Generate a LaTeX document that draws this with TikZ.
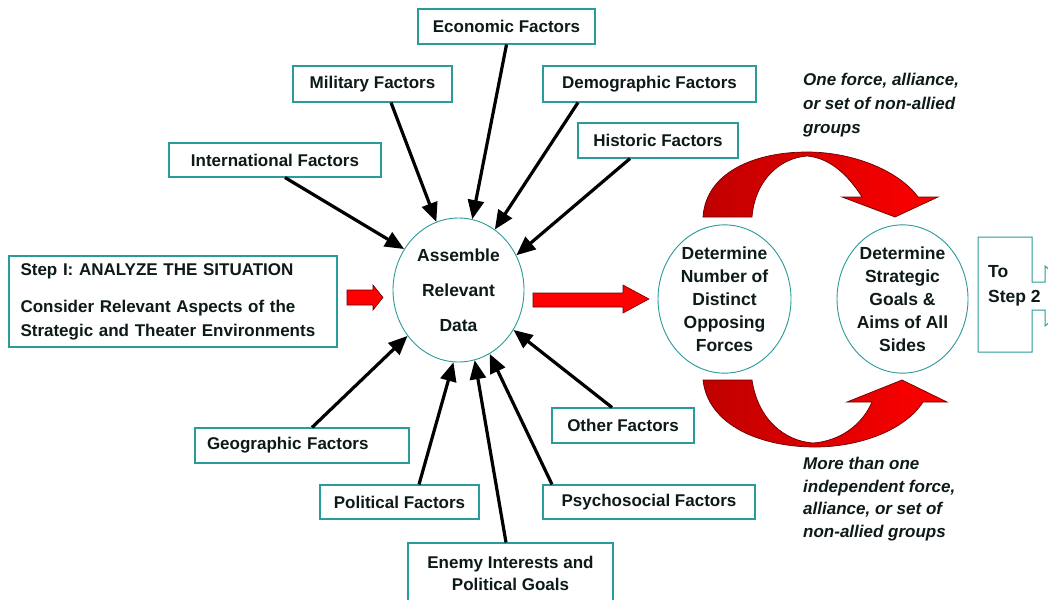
\documentclass[tikz,border=0pt]{standalone}
\usepackage{fontspec}
\setmainfont{Liberation Sans}
\usetikzlibrary{arrows.meta,shapes.geometric,calc}
\definecolor{bteal}{HTML}{2A9A9A}
\definecolor{bred}{HTML}{F4A6A6}
\definecolor{txt}{HTML}{0E1A1A}
\definecolor{rdark}{HTML}{BF0000}
\definecolor{rbright}{HTML}{FF0000}
\definecolor{rline}{HTML}{6A0000}
\begin{document}
\begin{tikzpicture}[x=1pt,y=-1pt,
  every node/.style={text=txt, font=\bfseries\fontsize{17}{20}\selectfont},
  fbox/.style={draw=bteal, line width=1.1pt, inner sep=0pt,
    preaction={draw=bred, line width=0.8pt, transform canvas={shift={(0.8pt,-0.8pt)}}}},
  circ/.style={ellipse, draw=bteal, line width=0.9pt, inner sep=0pt, align=center},
  conn/.style={line width=3.2pt, draw=black, -{Triangle[length=19pt,width=16pt]}},
  blockarrow/.style={fill=rbright, draw=rline, line width=0.6pt},
  curvearrow/.style={left color=rdark, right color=rbright, draw=rline, line width=0.7pt},
  note/.style={font=\bfseries\itshape\fontsize{17}{24}\selectfont, align=left, anchor=west, inner sep=0pt}]
\clip (0,0) rectangle (1048,599);
\fill[white] (0,0) rectangle (1048,599);

% step box
\node[fbox, text width=305, inner xsep=11.5pt, minimum height=91, align=left,
  font=\bfseries\fontsize{17}{24}\selectfont] (step) at (173,301.5)
  {Step I: ANALYZE THE SITUATION\\[13pt]Consider Relevant Aspects of the\\Strategic and Theater Environments};

% circles
\node[circ, minimum width=131, minimum height=144, font=\bfseries\fontsize{17.5}{35}\selectfont] (asm) at (458.5,290) {Assemble\\Relevant\\Data};
\node[circ, minimum width=133, minimum height=142, font=\bfseries\fontsize{17.5}{23}\selectfont] (det1) at (724.5,299) {Determine\\Number of\\Distinct\\Opposing\\Forces};
\node[circ, minimum width=131, minimum height=142, font=\bfseries\fontsize{17.5}{23}\selectfont] (det2) at (902.5,299) {Determine\\Strategic\\Goals \&\\Aims of All\\Sides};

% factor boxes
\node[fbox, minimum width=177, minimum height=35] (eco) at (506.5,26.5) {Economic Factors};
\node[fbox, minimum width=159, minimum height=36] (mil) at (372.5,84) {Military Factors};
\node[fbox, minimum width=213, minimum height=36] (dem) at (649.5,84) {Demographic Factors};
\node[fbox, minimum width=160, minimum height=35] (his) at (658,140.5) {Historic Factors};
\node[fbox, minimum width=212, minimum height=34] (int) at (275,160) {International Factors};
\node[fbox, text width=190, inner xsep=12pt, minimum height=35, align=left] (geo) at (302,445.5) {Geographic Factors};
\node[fbox, minimum width=142, minimum height=35] (oth) at (623,425.5) {Other Factors};
\node[fbox, minimum width=159, minimum height=34] (pol) at (399.5,502) {Political Factors};
\node[fbox, minimum width=212, minimum height=34] (psy) at (649,502) {Psychosocial Factors};
\node[fbox, minimum width=205, minimum height=60, align=center, font=\bfseries\fontsize{17}{22}\selectfont] (ene) at (510.5,573) {Enemy Interests and\\Political Goals};

% connectors
\draw[conn] ($(int.south)+(10,0)$) -- (asm.143.6);
\draw[conn] ($(mil.south)+(18.5,0)$) -- (asm.108.2);
\draw[conn] (eco.south) -- (asm.79.9);
\draw[conn] ($(dem.south)+(-71.5,0)$) -- (asm.59);
\draw[conn] ($(his.south)+(-28,0)$) -- (asm.31);
\draw[conn] ($(geo.north)+(10,0)$) -- (asm.222);
\draw[conn] ($(pol.north)+(19.5,0)$) -- (asm.266.7);
\draw[conn] ($(ene.north)+(-4.5,0)$) -- (asm.283.9);
\draw[conn] ($(psy.north)+(-97,0)$) -- (asm.296.6);
\draw[conn] ($(oth.north)+(-11,0)$) -- (asm.324.8);

% block arrows
\draw[blockarrow] (347,290) -- (373,290) -- (373,285) -- (383,297.5) -- (373,310) -- (373,305) -- (347,305) -- cycle;
\draw[blockarrow] (533,293) -- (623,293) -- (623,285) -- (649,299) -- (623,313) -- (623,307) -- (533,307) -- cycle;

% curved arrows
\shade[curvearrow] (703,217) .. controls (706,172) and (755,152) .. (807,152)
  .. controls (855,152) and (900,172) .. (918,197) -- (938,197) -- (895,217) -- (842,197) -- (862,197)
  .. controls (848,175) and (830,158) .. (807,156)
  .. controls (780,158) and (755,180) .. (752,217) -- cycle;
\shade[curvearrow] (703,380) .. controls (708,425) and (760,447) .. (815,447)
  .. controls (860,447) and (905,430) .. (923,402) -- (947,402) -- (902,380) -- (847,402) -- (872,402)
  .. controls (862,425) and (840,441) .. (813,443)
  .. controls (785,441) and (758,420) .. (752,380) -- cycle;

% notes
\node[note] (topnote) at (803,105.5) {One force, alliance,\\or set of non-allied\\groups};
\node[note, font=\bfseries\itshape\fontsize{17}{22.7}\selectfont] (botnote) at (803,499) {More than one\\independent force,\\alliance, or set of\\non-allied groups};

% to step 2
\draw[draw=bteal, line width=1pt] (978,237) -- (1032,237) -- (1032,282) -- (1045,282) -- (1045,266) -- (1080,296)
  -- (1045,326) -- (1045,310) -- (1032,310) -- (1032,352) -- (978,352) -- cycle;
\node[align=left, anchor=west, inner sep=0pt, font=\bfseries\fontsize{17.5}{25}\selectfont] (tostep) at (988,285.5) {To\\Step 2};
\end{tikzpicture}
\end{document}
